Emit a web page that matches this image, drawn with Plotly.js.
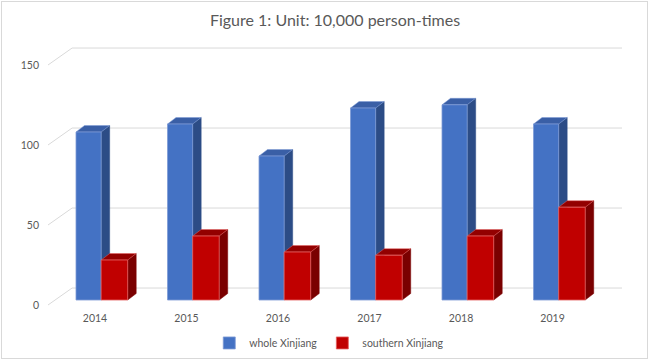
<!DOCTYPE html>
<html>
<head>
<meta charset="utf-8">
<script src="https://cdn.plot.ly/plotly-3.0.1.min.js"></script>
<style>
  html, body { margin: 0; padding: 0; background: #fff; }
  #wrap { position: relative; width: 650px; height: 361px; }
  #chart { width: 650px; height: 361px; }
  #frame { position: absolute; left: 1px; top: 1px; right: 2px; bottom: 2px; border: 1px solid #D9D9D9; pointer-events: none; }
</style>
</head>
<body>
<div id="wrap"><div id="chart"></div><div id="frame"></div></div>
<script>
// ---- data ----
const years = ['2014', '2015', '2016', '2017', '2018', '2019'];
const wholeXinjiang = [105, 110, 90, 120, 122, 110];
const southernXinjiang = [25, 40, 30, 28, 40, 58];
const yTicks = [0, 50, 100, 150];

// ---- styling / geometry constants ----
const idx = years.map((_, i) => i);
const blueOffset = -0.208, blueWidth = 0.275;
const redOffset = 0.067, redWidth = 0.29;
const dx = 0.093;   // depth (x units)
const dy = 4.06;    // depth (y units)
const backShift = 10.6; // back wall offset on label axis
const xLeft = -0.514, xWallLeft = -0.251, xRight = 5.759;

const colors = {
  blueFront: '#4472C4', blueSide: '#2C4C86', blueTop: '#3A5FA6', blueEdge: '#7D9BD6',
  redFront: '#C00000', redSide: '#7A0000', redTop: '#930000', redEdge: '#E46060'
};

const shapes = [];
// back-wall gridlines and diagonal floor ticks
yTicks.forEach(v => {
  shapes.push({type: 'line', xref: 'x', yref: 'y2', x0: xLeft, y0: v, x1: xWallLeft, y1: v + backShift,
    line: {color: '#D9D9D9', width: 1}, layer: 'below'});
  shapes.push({type: 'line', xref: 'x', yref: 'y2', x0: xWallLeft, y0: v + backShift, x1: xRight, y1: v + backShift,
    line: {color: '#D9D9D9', width: 1}, layer: 'below'});
});

function addBox(vals, off, w, side, top, edge) {
  vals.forEach((v, i) => {
    const x0 = i + off, x1 = i + off + w;
    shapes.push({type: 'path', xref: 'x', yref: 'y', layer: 'below',
      path: `M ${x1},0 L ${x1},${v} L ${x1 + dx},${v + dy} L ${x1 + dx},${dy} Z`,
      fillcolor: side, line: {color: side, width: 0.5}});
    shapes.push({type: 'path', xref: 'x', yref: 'y', layer: 'below',
      path: `M ${x0},${v} L ${x1},${v} L ${x1 + dx},${v + dy} L ${x0 + dx},${v + dy} Z`,
      fillcolor: top, line: {color: edge, width: 0.5}});
  });
}
addBox(wholeXinjiang, blueOffset, blueWidth, colors.blueSide, colors.blueTop, colors.blueEdge);
addBox(southernXinjiang, redOffset, redWidth, colors.redSide, colors.redTop, colors.redEdge);

const traces = [
  {type: 'bar', name: 'whole Xinjiang', x: idx, y: wholeXinjiang, offset: blueOffset, width: blueWidth,
   marker: {color: colors.blueFront, line: {color: colors.blueEdge, width: 0.8}}, hoverinfo: 'y'},
  {type: 'bar', name: 'southern Xinjiang', x: idx, y: southernXinjiang, offset: redOffset, width: redWidth,
   marker: {color: colors.redFront, line: {color: colors.redEdge, width: 0.8}}, hoverinfo: 'y'},
  {type: 'scatter', x: [0], y: [0], yaxis: 'y2', mode: 'markers', marker: {opacity: 0}, showlegend: false, hoverinfo: 'skip'}
];

const font = {family: 'Lato, "Open Sans", sans-serif', color: '#595959'};

const layout = {
  width: 650, height: 361,
  margin: {l: 48, r: 28, t: 40, b: 51, autoexpand: false},
  paper_bgcolor: '#ffffff', plot_bgcolor: 'rgba(0,0,0,0)',
  barmode: 'overlay',
  title: {text: 'Figure 1: Unit: 10,000 person-times', x: 0.5, xanchor: 'center', xref: 'paper',
    y: 1 - 20 / 361, yanchor: 'middle', yref: 'container',
    font: {family: font.family, color: '#595959', size: 16}},
  xaxis: {range: [xLeft, xRight], tickvals: idx, ticktext: years, showgrid: false, zeroline: false,
    showline: false, ticks: '', tickfont: {family: font.family, color: '#595959', size: 10.5}, fixedrange: true, automargin: false},
  yaxis: {range: [-6.25, 162.5], showgrid: false, zeroline: false, showline: false, showticklabels: false, ticks: '', fixedrange: true, automargin: false},
  yaxis2: {range: [-3.125, 165.625], overlaying: 'y', side: 'left', tickvals: yTicks, ticktext: yTicks.map(String),
    showgrid: false, zeroline: false, showline: false, ticks: '', ticklabelstandoff: 8, automargin: false,
    tickfont: {family: font.family, color: '#595959', size: 10.5}, fixedrange: true},
  showlegend: true,
  legend: {orientation: 'h', x: 0.49, xanchor: 'center', y: -0.122, yanchor: 'middle',
    font: {family: font.family, color: '#595959', size: 10.5}, itemwidth: 30, traceorder: 'normal'},
  shapes: shapes
};

Plotly.newPlot('chart', traces, layout, {displayModeBar: false, staticPlot: true});
</script>
</body>
</html>
